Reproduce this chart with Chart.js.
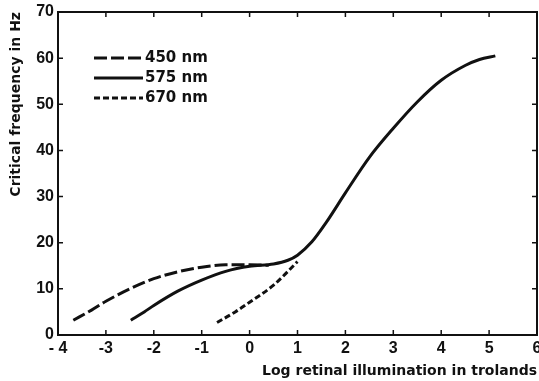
<!DOCTYPE html>
<html lang="en">
<head>
  <meta charset="UTF-8" />
  <title>Critical frequency</title>
  <style>
    html, body { margin: 0; padding: 0; background: #fff; }
    #wrap { width: 539px; height: 381px; }
  </style>
</head>
<body>
  <div id="wrap"><canvas id="myChart"></canvas></div>

  <script src="https://cdn.jsdelivr.net/npm/chart.js"></script>
  <script>
// values
const xTickLabels = ['- 4', '-3', '-2', '-1', '0', '1', '2', '3', '4', '5', '6'];
const yTickLabels = ['0', '10', '20', '30', '40', '50', '60', '70'];

const seriesNames = ['450 nm', '575 nm', '670 nm'];

const x450 = [-3.68, -3.3, -3.0, -2.5, -2.0, -1.5, -1.0, -0.5, 0.0, 0.4];
const y450 = [3.2, 5.4, 7.3, 10.0, 12.2, 13.7, 14.7, 15.2, 15.2, 15.1];

const x575 = [-2.48, -2.2, -2.0, -1.5, -1.0, -0.5, 0.0, 0.5, 0.8, 1.0, 1.3, 1.6, 2.0, 2.5, 3.0, 3.5, 4.0, 4.5, 4.8, 5.13];
const y575 = [3.2, 5.0, 6.4, 9.5, 11.9, 13.8, 14.9, 15.4, 16.2, 17.3, 20.2, 24.4, 30.8, 38.5, 44.8, 50.5, 55.2, 58.4, 59.7, 60.5];

const x670 = [-0.68, -0.3, 0.0, 0.5, 1.0];
const y670 = [2.7, 5.0, 7.1, 10.8, 15.9];

const ink = '#111';
const TICK_FONT = "'Liberation Sans', Arial, sans-serif";
const TEXT_FONT = "'DejaVu Sans', Verdana, sans-serif";

function pts(xs, ys) {
  return xs.map((x, i) => ({x: x, y: ys[i]}));
}

// frame + inward ticks on all four sides
const frameTicks = {
  id: 'frameTicks',
  afterDatasetsDraw(chart) {
    const {ctx, chartArea: a, scales} = chart;
    const len = 5;
    ctx.save();
    ctx.strokeStyle = ink;
    ctx.lineWidth = 2;
    ctx.strokeRect(a.left, a.top, a.right - a.left, a.bottom - a.top);
    ctx.lineWidth = 1.5;
    ctx.beginPath();
    scales.x.ticks.forEach((t, i) => {
      const px = scales.x.getPixelForTick(i);
      ctx.moveTo(px, a.bottom); ctx.lineTo(px, a.bottom - len);
      ctx.moveTo(px, a.top); ctx.lineTo(px, a.top + len);
    });
    scales.y.ticks.forEach((t, i) => {
      const py = scales.y.getPixelForTick(i);
      ctx.moveTo(a.left, py); ctx.lineTo(a.left + len, py);
      ctx.moveTo(a.right, py); ctx.lineTo(a.right - len, py);
    });
    ctx.stroke();
    ctx.restore();
  }
};

// legend drawn inside the plot, top left
const innerLegend = {
  id: 'innerLegend',
  afterDraw(chart) {
    const {ctx, chartArea: a} = chart;
    const x0 = a.left + 36, x1 = a.left + 85;
    ctx.save();
    ctx.font = 'bold 15px ' + TEXT_FONT;
    ctx.textBaseline = 'middle';
    ctx.fillStyle = ink;
    chart.data.datasets.forEach((ds, i) => {
      const y = a.top + 46 + i * 20;
      ctx.strokeStyle = ink;
      ctx.lineWidth = ds.borderWidth;
      ctx.setLineDash(ds.borderDash || []);
      ctx.beginPath();
      ctx.moveTo(x0, y); ctx.lineTo(x1, y);
      ctx.stroke();
      ctx.setLineDash([]);
      ctx.fillText(ds.label, x1 + 2, y);
    });
    ctx.restore();
  }
};

const ctx = document.getElementById('myChart');

new Chart(ctx, {
  type: 'line',
  data: {
    datasets: [
      {
        label: seriesNames[0],
        data: pts(x450, y450),
        borderColor: ink,
        borderWidth: 3,
        borderDash: [13, 4],
      },
      {
        label: seriesNames[1],
        data: pts(x575, y575),
        borderColor: ink,
        borderWidth: 3,
      },
      {
        label: seriesNames[2],
        data: pts(x670, y670),
        borderColor: ink,
        borderWidth: 3,
        borderDash: [6, 3],
      }
    ]
  },
  options: {
    responsive: true,
    maintainAspectRatio: false,
    animation: false,
    pointRadius: 0,
    cubicInterpolationMode: 'monotone',
    layout: {padding: {top: 12, right: 2, left: 0, bottom: 0}},
    plugins: {
      legend: {display: false},
      tooltip: {enabled: false}
    },
    scales: {
      x: {
        type: 'linear',
        min: -4,
        max: 6,
        grid: {display: false, drawTicks: false},
        border: {display: false},
        ticks: {
          stepSize: 1,
          padding: 4,
          color: ink,
          font: {family: TICK_FONT, size: 16, weight: 'bold'},
          maxRotation: 0,
          callback: (v) => xTickLabels[Math.round(v) + 4]
        },
        title: {
          display: true,
          text: 'Log retinal illumination in trolands',
          align: 'end',
          color: ink,
          padding: {top: 0, bottom: 1},
          font: {family: TEXT_FONT, size: 14, weight: 'bold'}
        },
        afterFit(scale) {
          scale.height = 46;
          scale.paddingLeft = 0;
          scale.paddingRight = 0;
        }
      },
      y: {
        min: 0,
        max: 70,
        grid: {display: false, drawTicks: false},
        border: {display: false},
        ticks: {
          stepSize: 10,
          padding: 4,
          color: ink,
          font: {family: TICK_FONT, size: 16, weight: 'bold'},
          callback: (v) => yTickLabels[Math.round(v / 10)]
        },
        title: {
          display: true,
          text: 'Critical frequency in Hz',
          align: 'end',
          color: ink,
          padding: {top: 8, bottom: 0},
          font: {family: TEXT_FONT, size: 14, weight: 'bold'}
        },
        afterFit(scale) {
          scale.width = 58;
          scale.paddingTop = 0;
          scale.paddingBottom = 0;
        }
      }
    }
  },
  plugins: [frameTicks, innerLegend]
});
  </script>
</body>
</html>
